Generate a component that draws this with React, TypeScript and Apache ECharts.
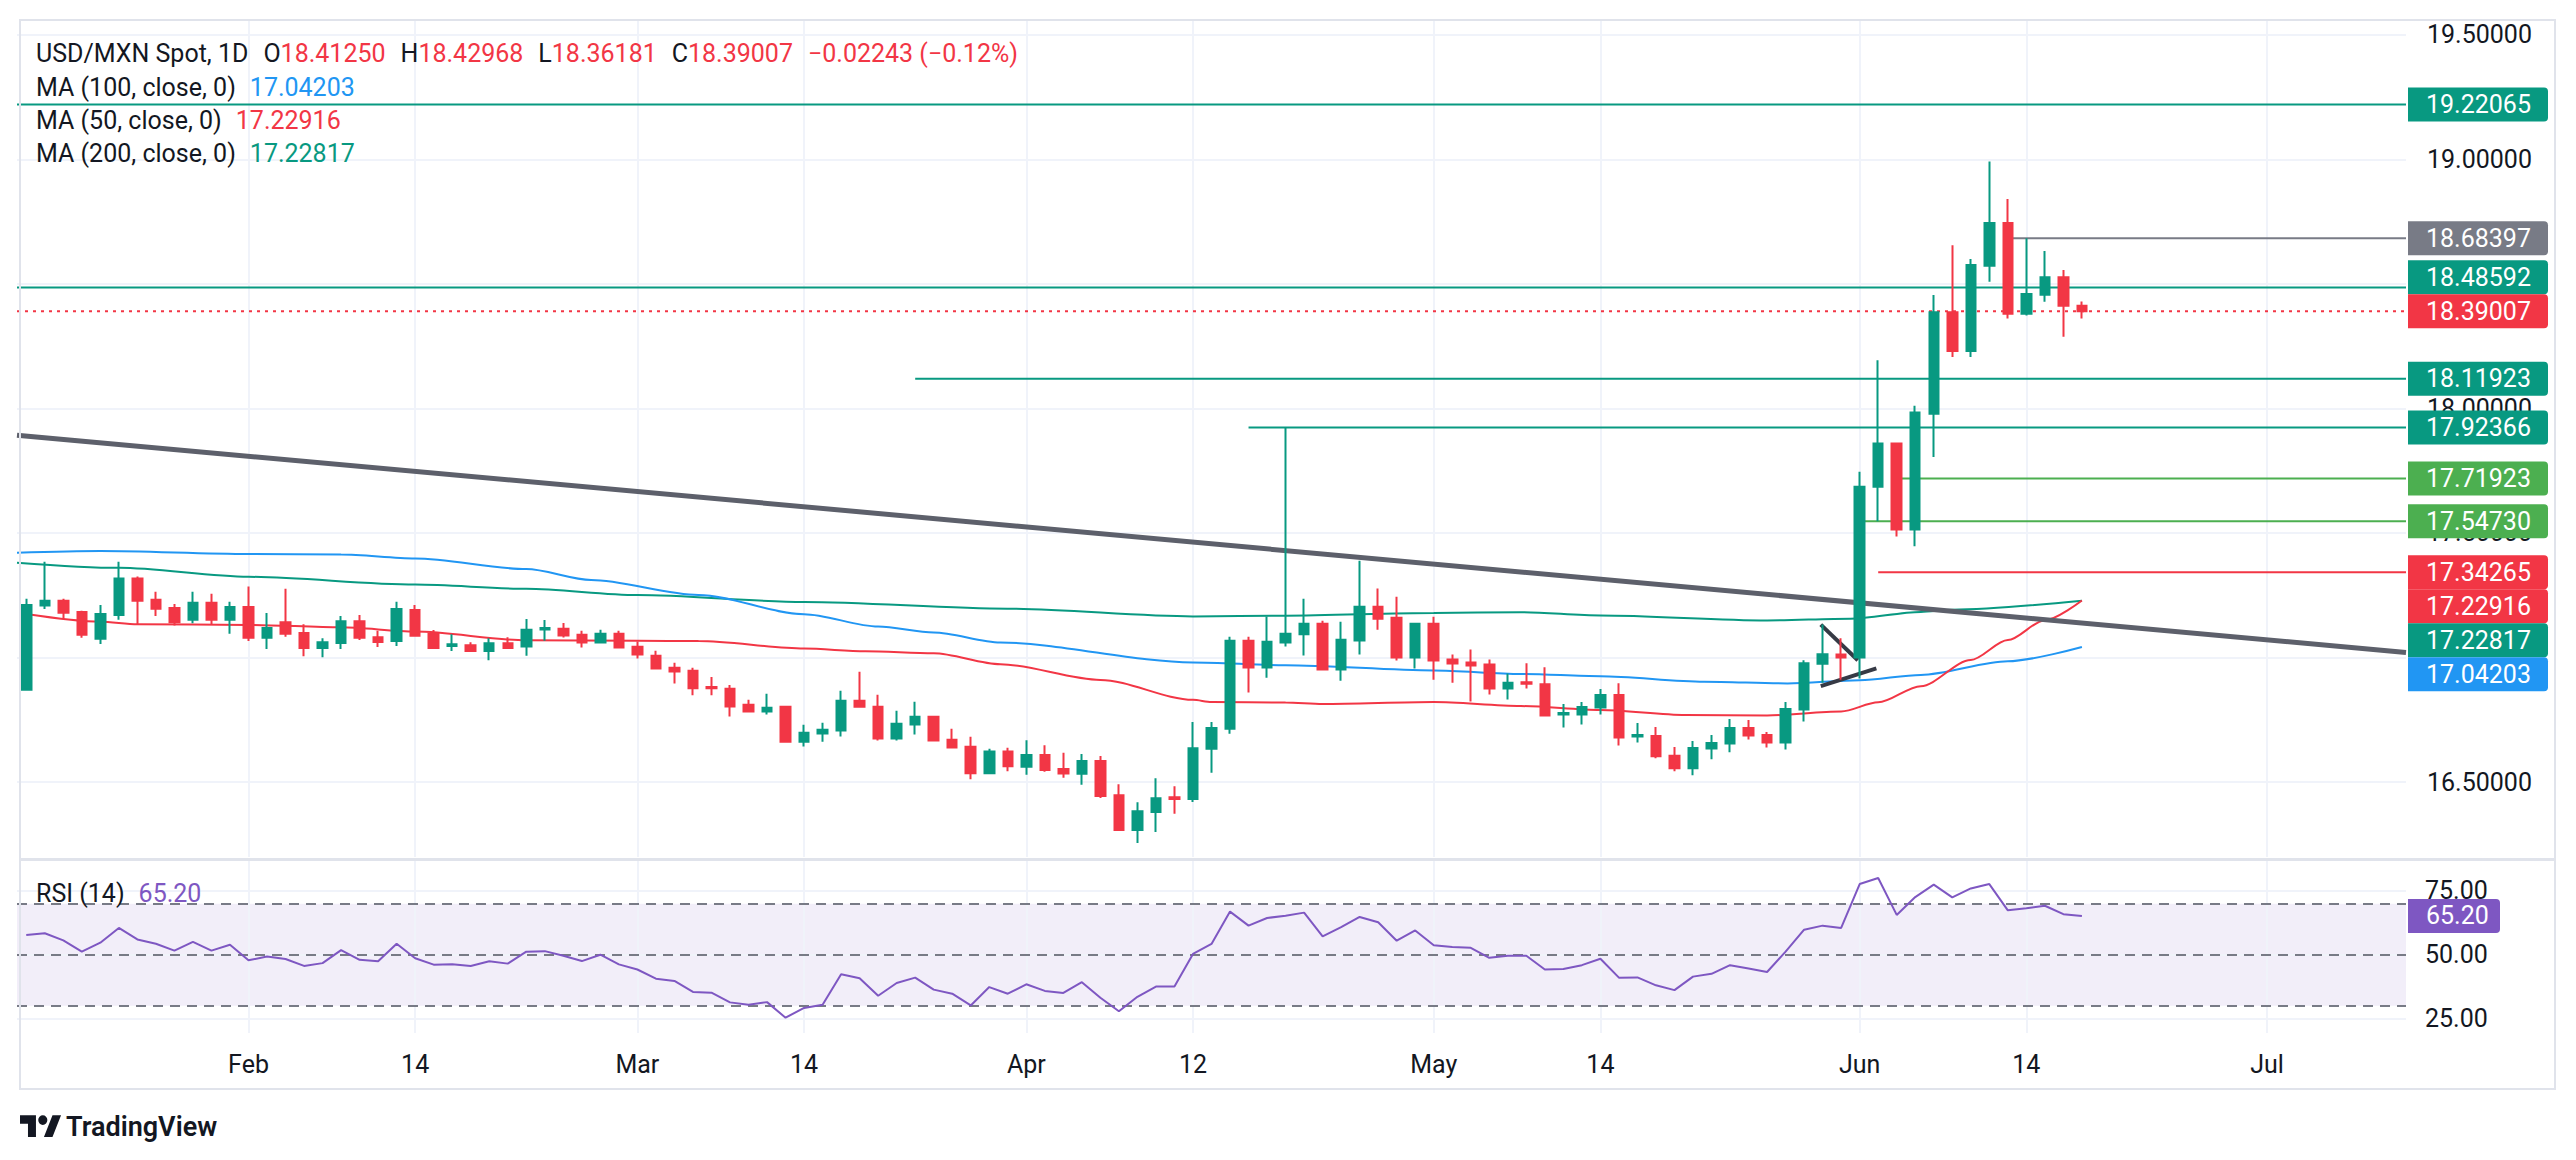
import { useEffect, useRef } from 'react';
import * as echarts from 'echarts';

const UP = '#089981';
const DOWN = '#f23645';
const GREEN = '#4caf50';
const GRAY = '#787b86';
const BLUE = '#2196f3';
const PURPLE = '#7e57c2';
const TEXT = '#131722';
const GRID = '#f0f3fa';
const FONT = 'Roboto, "Noto Sans", sans-serif';

// daily bars from Jan 16 2024 to Jun 19 2024: [open, close, low, high]
const candles: number[][] = [
  [16.870, 17.211, 16.870, 17.236], [17.209, 17.228, 17.195, 17.385], [17.228, 17.180, 17.156, 17.236],
  [17.183, 17.091, 17.079, 17.188], [17.075, 17.175, 17.054, 17.211], [17.171, 17.317, 17.152, 17.385],
  [17.317, 17.228, 17.134, 17.325], [17.232, 17.196, 17.167, 17.264], [17.199, 17.142, 17.129, 17.215],
  [17.152, 17.220, 17.138, 17.264], [17.220, 17.152, 17.134, 17.256], [17.152, 17.203, 17.095, 17.224],
  [17.203, 17.079, 17.066, 17.285], [17.079, 17.118, 17.034, 17.179], [17.142, 17.095, 17.083, 17.276],
  [17.098, 17.038, 17.005, 17.134], [17.038, 17.061, 17.001, 17.077], [17.058, 17.146, 17.034, 17.167],
  [17.146, 17.079, 17.070, 17.171], [17.081, 17.062, 17.042, 17.107], [17.066, 17.195, 17.046, 17.224],
  [17.191, 17.087, 17.083, 17.211], [17.095, 17.038, 17.038, 17.110], [17.046, 17.053, 17.026, 17.093],
  [17.049, 17.026, 17.026, 17.061], [17.026, 17.057, 16.989, 17.077], [17.057, 17.038, 17.034, 17.081],
  [17.044, 17.111, 17.007, 17.155], [17.112, 17.118, 17.067, 17.151], [17.115, 17.088, 17.080, 17.139],
  [17.091, 17.060, 17.040, 17.107], [17.060, 17.095, 17.056, 17.111], [17.095, 17.040, 17.040, 17.107],
  [17.043, 17.012, 16.996, 17.064], [17.007, 16.956, 16.956, 17.027], [16.959, 16.944, 16.896, 16.979],
  [16.947, 16.876, 16.848, 16.959], [16.882, 16.876, 16.848, 16.922], [16.874, 16.803, 16.763, 16.890],
  [16.810, 16.783, 16.779, 16.830], [16.783, 16.798, 16.771, 16.854], [16.802, 16.662, 16.658, 16.806],
  [16.662, 16.698, 16.643, 16.730], [16.695, 16.710, 16.662, 16.738], [16.707, 16.826, 16.683, 16.866],
  [16.826, 16.802, 16.798, 16.943], [16.802, 16.675, 16.667, 16.850], [16.675, 16.734, 16.667, 16.786],
  [16.731, 16.762, 16.691, 16.822], [16.762, 16.667, 16.667, 16.766], [16.670, 16.639, 16.639, 16.714],
  [16.642, 16.535, 16.511, 16.682], [16.535, 16.622, 16.531, 16.634], [16.622, 16.563, 16.543, 16.638],
  [16.561, 16.608, 16.529, 16.668], [16.608, 16.548, 16.541, 16.648], [16.552, 16.534, 16.517, 16.617],
  [16.533, 16.584, 16.489, 16.612], [16.584, 16.444, 16.436, 16.604], [16.447, 16.307, 16.307, 16.491],
  [16.307, 16.383, 16.255, 16.419], [16.380, 16.435, 16.299, 16.515], [16.439, 16.432, 16.372, 16.483],
  [16.432, 16.636, 16.420, 16.741], [16.634, 16.717, 16.537, 16.741], [16.714, 17.067, 16.694, 17.083],
  [17.067, 16.960, 16.859, 17.083], [16.960, 17.063, 16.919, 17.165], [17.060, 17.095, 17.044, 17.9237],
  [17.093, 17.136, 17.008, 17.236], [17.136, 16.952, 16.948, 17.148], [16.952, 17.071, 16.907, 17.144],
  [17.068, 17.204, 17.012, 17.389], [17.204, 17.156, 17.111, 17.277], [17.160, 17.000, 16.988, 17.244],
  [17.000, 17.136, 16.956, 17.140], [17.136, 16.988, 16.911, 17.164], [16.992, 16.976, 16.899, 17.012],
  [16.980, 16.968, 16.823, 17.032], [16.972, 16.875, 16.851, 16.992], [16.875, 16.899, 16.831, 16.936],
  [16.901, 16.895, 16.875, 16.977], [16.893, 16.767, 16.767, 16.961], [16.771, 16.777, 16.719, 16.813],
  [16.771, 16.801, 16.731, 16.821], [16.799, 16.849, 16.771, 16.873], [16.849, 16.679, 16.647, 16.897],
  [16.683, 16.689, 16.659, 16.737], [16.685, 16.603, 16.595, 16.721], [16.605, 16.555, 16.543, 16.641],
  [16.555, 16.637, 16.527, 16.665], [16.635, 16.657, 16.591, 16.689], [16.655, 16.717, 16.619, 16.753],
  [16.717, 16.687, 16.671, 16.749], [16.689, 16.659, 16.639, 16.701], [16.659, 16.793, 16.631, 16.821],
  [16.791, 16.977, 16.743, 16.989], [16.975, 17.013, 16.899, 17.133], [17.012, 17.000, 16.911, 17.077],
  [17.000, 17.686, 16.916, 17.746], [17.686, 17.859, 17.5473, 18.194], [17.859, 17.514, 17.486, 17.859],
  [17.514, 17.984, 17.447, 18.011], [17.979, 18.387, 17.805, 18.456], [18.387, 18.231, 18.207, 18.656],
  [18.231, 18.576, 18.207, 18.600], [18.573, 18.745, 18.509, 18.992], [18.745, 18.380, 18.361, 18.841],
  [18.380, 18.460, 18.373, 18.684], [18.457, 18.527, 18.429, 18.632], [18.527, 18.4125, 18.288, 18.556],
  [18.4125, 18.39007, 18.36181, 18.42968],
];

const rsi = [
  57.7, 58.4, 55.6, 51.2, 54.7, 60.5, 56.0, 54.3, 51.6, 55.0, 51.6, 53.9, 47.8, 49.3, 48.3, 45.6,
  46.7, 51.8, 48.0, 47.4, 54.3, 48.6, 46.1, 46.3, 45.6, 47.4, 46.5, 51.2, 51.4, 49.6, 47.5, 50.0,
  46.2, 44.2, 40.6, 39.7, 35.4, 35.1, 31.3, 30.4, 31.4, 25.3, 29.1, 30.4, 42.3, 40.8, 33.9, 38.9,
  41.0, 36.3, 34.7, 30.1, 37.3, 34.7, 38.4, 35.8, 35.0, 39.2, 33.1, 27.8, 33.5, 37.5, 37.5, 50.3,
  54.2, 66.9, 61.4, 64.4, 65.3, 66.5, 57.2, 60.8, 64.8, 62.7, 55.5, 59.5, 53.7, 53.0, 52.7, 48.8,
  49.6, 49.6, 44.2, 44.4, 45.9, 48.4, 41.0, 41.1, 38.0, 36.1, 41.4, 42.5, 45.9, 44.6, 43.2, 51.2,
  59.8, 61.4, 60.5, 77.7, 80.1, 65.6, 72.6, 77.5, 72.5, 76.0, 77.7, 67.4, 68.2, 69.2, 65.9, 65.2,
];

// moving averages: [bar index, value]
const ma50 = [
  [0, 17.175], [4, 17.144], [6, 17.134], [12, 17.131], [17, 17.121], [21, 17.104], [27, 17.069],
  [33, 17.067], [36.3, 17.066], [42, 17.036], [45.3, 17.025], [49, 17.017], [52.6, 16.973],
  [58, 16.910], [63, 16.830], [64, 16.821], [68, 16.819], [70, 16.813], [76, 16.821], [80.7, 16.805],
  [85, 16.789], [89.6, 16.769], [94, 16.767], [98, 16.783], [100, 16.82], [102.3, 16.885],
  [105, 16.99], [107, 17.07], [109, 17.15], [111, 17.22916],
];
const ma100 = [
  [-0.5, 17.421], [4, 17.428], [12, 17.416], [17, 17.414], [21, 17.398], [27, 17.355], [30.5, 17.311],
  [36.3, 17.251], [42, 17.174], [46, 17.124], [49, 17.100], [52.6, 17.060], [63, 16.980], [68, 16.969],
  [76, 16.948], [80.7, 16.934], [85, 16.925], [90.6, 16.903], [95.1, 16.896], [99, 16.909],
  [102.3, 16.93], [107, 16.985], [111, 17.04203],
];
const ma200 = [
  [-0.5, 17.381], [5, 17.360], [12, 17.324], [21, 17.293], [27, 17.276], [33, 17.251], [42, 17.223],
  [53, 17.196], [63, 17.165], [68, 17.168], [76, 17.179], [80.7, 17.182], [85, 17.169], [94, 17.149],
  [98.5, 17.156], [102.3, 17.183], [104, 17.192], [111, 17.22817],
];

// horizontal levels: [price, first bar]
const levels = [
  [19.22065, -0.5], [18.68397, 107], [18.48592, -0.5], [18.11923, 48],
  [17.92366, 66], [17.71923, 101], [17.5473, 99], [17.34265, 100],
];
const levelColors = [UP, GRAY, UP, UP, UP, GREEN, GREEN, DOWN];

const trendLine = [[-0.5, 17.893], [128.5, 17.020]];
const wedgeTop = [[96.9, 17.132], [98.9, 16.989]];
const wedgeBottom = [[96.9, 16.885], [99.9, 16.956]];

const tickLabels: Record<string, string> = {
  '2024-02-01': 'Feb', '2024-02-14': '14', '2024-03-01': 'Mar', '2024-03-14': '14',
  '2024-04-01': 'Apr', '2024-04-12': '12', '2024-05-01': 'May', '2024-05-14': '14',
  '2024-06-03': 'Jun', '2024-06-14': '14', '2024-07-03': 'Jul',
};
const priceTicks = [16.5, 17, 17.5, 18, 18.5, 19, 19.5];
const rsiTicks = [25, 50, 75];
const rsiBands = [70, 50, 30];

const SLOTS = 129;
const days: string[] = [];
for (let d = new Date(Date.UTC(2024, 0, 16)); days.length < SLOTS; d.setUTCDate(d.getUTCDate() + 1)) {
  const wd = d.getUTCDay();
  if (wd !== 0 && wd !== 6) days.push(d.toISOString().slice(0, 10));
}
const tickIdx = Object.keys(tickLabels).map((k) => days.indexOf(k));

const TV_LOGO =
  'M0 4H14V22H7V11H0Z M24 8A4 4 0 1 1 16 8A4 4 0 1 1 24 8Z M21 22L28.5 4H36L28.5 22Z';
echarts.graphic.registerShape('tvLogo', echarts.graphic.extendPath(TV_LOGO, {}));

const fmtSigned = (v: number, d: number) => (v < 0 ? '\u2212' : '+') + Math.abs(v).toFixed(d);

const lineSeries = (data: number[][], color: string, width: number, extra: any = {}) => ({
  type: 'line',
  xAxisIndex: 1,
  yAxisIndex: 0,
  data,
  showSymbol: false,
  silent: true,
  z: 3,
  lineStyle: { color, width },
  ...extra,
});

const App = () => {
  const ref = useRef<HTMLDivElement>(null);

  useEffect(() => {
    if (!ref.current) return;
    const chart = echarts.init(ref.current, undefined, { renderer: 'svg' });

    const last = candles[candles.length - 1];
    const prev = candles[candles.length - 2];
    const lastClose = last[1];
    const chg = lastClose - prev[1];
    const pct = (chg / prev[1]) * 100;
    const lastRsi = rsi[rsi.length - 1];

    const legendRich = {
      k: { fill: TEXT, fontSize: 25, fontFamily: FONT },
      g: { fill: TEXT, fontSize: 25, fontFamily: FONT, padding: [0, 0, 0, 15] },
      v: { fill: DOWN, fontSize: 25, fontFamily: FONT },
      c: { fill: DOWN, fontSize: 25, fontFamily: FONT, padding: [0, 0, 0, 15] },
      b: { fill: BLUE, fontSize: 25, fontFamily: FONT, padding: [0, 0, 0, 14] },
      r: { fill: DOWN, fontSize: 25, fontFamily: FONT, padding: [0, 0, 0, 14] },
      t: { fill: UP, fontSize: 25, fontFamily: FONT, padding: [0, 0, 0, 14] },
      p: { fill: PURPLE, fontSize: 25, fontFamily: FONT, padding: [0, 0, 0, 14] },
    };
    const legend = (y: number, text: string) => ({
      type: 'text',
      x: 36,
      y,
      z: 60,
      silent: true,
      style: { text, rich: legendRich, verticalAlign: 'middle', textVerticalAlign: 'middle', font: `25px ${FONT}` },
    });

    const baseGraphic: any[] = [
      {
        type: 'rect', z: 50, silent: true,
        shape: { x: 20, y: 20, width: 2535, height: 1069 },
        style: { fill: 'none', stroke: '#e0e3eb', lineWidth: 2 },
      },
      {
        type: 'line', z: 50, silent: true,
        shape: { x1: 20, y1: 859.5, x2: 2555, y2: 859.5 },
        style: { stroke: '#e0e3eb', lineWidth: 3 },
      },
      legend(
        53,
        `{k|USD/MXN Spot, 1D}{g|O}{v|${last[0].toFixed(5)}}{g|H}{v|${last[3].toFixed(5)}}` +
          `{g|L}{v|${last[2].toFixed(5)}}{g|C}{v|${lastClose.toFixed(5)}}` +
          `{c|${fmtSigned(chg, 5)} (${fmtSigned(pct, 2)}%)}`,
      ),
      legend(87, `{k|MA (100, close, 0)}{b|${ma100[ma100.length - 1][1].toFixed(5)}}`),
      legend(120, `{k|MA (50, close, 0)}{r|${ma50[ma50.length - 1][1].toFixed(5)}}`),
      legend(153, `{k|MA (200, close, 0)}{t|${ma200[ma200.length - 1][1].toFixed(5)}}`),
      legend(893, `{k|RSI (14)}{p|${lastRsi.toFixed(2)}}`),
      {
        type: 'tvLogo', x: 20, y: 1110.5, scaleX: 1.14, scaleY: 1.2, silent: true,
        style: { fill: TEXT },
      },
      {
        type: 'text', x: 66, y: 1127, silent: true,
        style: {
          text: 'TradingView', fill: TEXT, font: `600 27px ${FONT}`,
          verticalAlign: 'middle', textVerticalAlign: 'middle',
        },
      },
    ];

    const option: any = {
      animation: false,
      backgroundColor: '#ffffff',
      textStyle: { fontFamily: FONT },
      grid: [
        { left: 17, top: 20, width: 2389, height: 837 },
        { left: 17, top: 861, width: 2389, height: 172 },
      ],
      xAxis: [
        { type: 'category', gridIndex: 0, data: days, boundaryGap: true, show: false },
        { type: 'value', gridIndex: 0, min: -0.5, max: SLOTS - 0.5, show: false },
        {
          type: 'category', gridIndex: 1, data: days, boundaryGap: true,
          axisLine: { show: false }, axisTick: { show: false }, splitLine: { show: false },
          axisLabel: {
            interval: (_i: number, v: string) => v in tickLabels,
            formatter: (v: string) => tickLabels[v] ?? '',
            color: TEXT, fontSize: 25, fontFamily: FONT, margin: 19,
          },
        },
        { type: 'value', gridIndex: 1, min: -0.5, max: SLOTS - 0.5, show: false },
      ],
      yAxis: [
        {
          type: 'value', gridIndex: 0, position: 'right', min: 16.1988, max: 19.5602,
          axisLine: { show: false }, axisTick: { show: false }, splitLine: { show: false },
          axisLabel: {
            customValues: priceTicks, formatter: (v: number) => v.toFixed(5),
            color: TEXT, fontSize: 25, fontFamily: FONT, margin: 21,
          },
        },
        {
          type: 'value', gridIndex: 1, position: 'right', min: 19.29, max: 86.75,
          axisLine: { show: false }, axisTick: { show: false }, splitLine: { show: false },
          axisLabel: {
            customValues: rsiTicks, formatter: (v: number) => v.toFixed(2),
            color: TEXT, fontSize: 25, fontFamily: FONT, margin: 19,
          },
        },
      ],
      series: [
        {
          type: 'line', xAxisIndex: 1, yAxisIndex: 0, data: [], silent: true,
          markLine: {
            z: 1, silent: true, symbol: 'none', animation: false, label: { show: false },
            lineStyle: { color: GRID, width: 2, type: 'solid' },
            data: [...tickIdx.map((i) => ({ xAxis: i })), ...priceTicks.map((v) => ({ yAxis: v }))],
          },
        },
        {
          type: 'line', xAxisIndex: 3, yAxisIndex: 1, data: [], silent: true,
          markLine: {
            z: 1, silent: true, symbol: 'none', animation: false, label: { show: false },
            lineStyle: { color: GRID, width: 2, type: 'solid' },
            data: [...tickIdx.map((i) => ({ xAxis: i })), ...rsiTicks.map((v) => ({ yAxis: v }))],
          },
        },
        lineSeries(ma200, UP, 2, { smooth: 0.3, smoothMonotone: 'x' }),
        lineSeries(ma100, BLUE, 2, { smooth: 0.3, smoothMonotone: 'x' }),
        lineSeries(ma50, DOWN, 2, { smooth: 0.3, smoothMonotone: 'x' }),
        lineSeries(trendLine, '#5d606b', 5),
        lineSeries(wedgeTop, '#363a45', 4),
        lineSeries(wedgeBottom, '#363a45', 4),
        ...levels.map(([p, from], i) => lineSeries([[from, p], [SLOTS - 0.5, p]], levelColors[i], 2)),
        lineSeries([[-0.5, lastClose], [SLOTS - 0.5, lastClose]], DOWN, 2, {
          lineStyle: { color: DOWN, width: 2, type: [3, 5] },
        }),
        {
          type: 'candlestick', xAxisIndex: 0, yAxisIndex: 0, data: candles, z: 10,
          barWidth: 10, silent: true,
          itemStyle: { color: UP, color0: DOWN, borderColor: UP, borderColor0: DOWN, borderWidth: 2 },
        },
        {
          type: 'line', xAxisIndex: 2, yAxisIndex: 1, data: rsi, showSymbol: false, silent: true, z: 5,
          lineStyle: { color: PURPLE, width: 2 },
          markLine: {
            z: 2, silent: true, symbol: 'none', animation: false, label: { show: false },
            lineStyle: { color: GRAY, width: 2, type: [10, 7] },
            data: rsiBands.map((v) => ({ yAxis: v })),
          },
          markArea: {
            z: 0, silent: true, animation: false,
            itemStyle: { color: 'rgba(126, 87, 194, 0.1)' },
            data: [[{ yAxis: rsiBands[2] }, { yAxis: rsiBands[0] }]],
          },
        },
      ],
      graphic: baseGraphic,
    };
    chart.setOption(option);

    // price scale tags, pushed apart so that they do not overlap
    const BOX_H = 34;
    const tags = [
      ...levels.map(([p], i) => ({ value: p, color: levelColors[i], fixed: false })),
      { value: lastClose, color: DOWN, fixed: true },
      { value: ma50[ma50.length - 1][1], color: DOWN, fixed: false },
      { value: ma200[ma200.length - 1][1], color: UP, fixed: false },
      { value: ma100[ma100.length - 1][1], color: BLUE, fixed: false },
    ]
      .map((t) => ({ ...t, y: chart.convertToPixel({ yAxisIndex: 0 }, t.value) as number }))
      .sort((a, b) => a.y - b.y);
    const f = tags.findIndex((t) => t.fixed);
    for (let i = f + 1; i < tags.length; i++) tags[i].y = Math.max(tags[i].y, tags[i - 1].y + BOX_H);
    for (let i = f - 1; i >= 0; i--) tags[i].y = Math.min(tags[i].y, tags[i + 1].y - BOX_H);

    // like the price scale, drop tick labels that sit entirely under the tags
    const covered = (y0: number, y1: number) => {
      let y = y0;
      for (const t of tags) {
        const top = t.y - BOX_H / 2;
        const bottom = t.y + BOX_H / 2;
        if (top <= y && bottom > y) y = bottom;
      }
      return y >= y1;
    };
    const shownTicks = priceTicks.filter((v) => {
      const y = chart.convertToPixel({ yAxisIndex: 0 }, v) as number;
      return !covered(y - 10, y + 10);
    });

    const tag = (y: number, w: number, color: string, text: string) => ({
      type: 'group',
      z: 100,
      silent: true,
      children: [
        {
          type: 'rect', z: 100,
          shape: { x: 2408, y: y - BOX_H / 2, width: w, height: BOX_H, r: [0, 4, 4, 0] },
          style: { fill: color },
        },
        {
          type: 'text', z: 101, x: 2426, y,
          style: {
            text, fill: '#ffffff', font: `25px ${FONT}`,
            verticalAlign: 'middle', textVerticalAlign: 'middle',
          },
        },
      ],
    });

    const rsiY = chart.convertToPixel({ yAxisIndex: 1 }, lastRsi) as number;
    chart.setOption({
      yAxis: [{ axisLabel: { customValues: shownTicks } }, {}],
      graphic: [
        ...baseGraphic,
        ...tags.map((t) => tag(t.y, 140, t.color, t.value.toFixed(5))),
        tag(rsiY, 92, PURPLE, lastRsi.toFixed(2)),
      ],
    });

    return () => {
      chart.dispose();
    };
  }, []);

  return <div ref={ref} style={{ position: 'absolute', left: 0, top: 0, width: 2576, height: 1160 }} />;
};

export default App;
